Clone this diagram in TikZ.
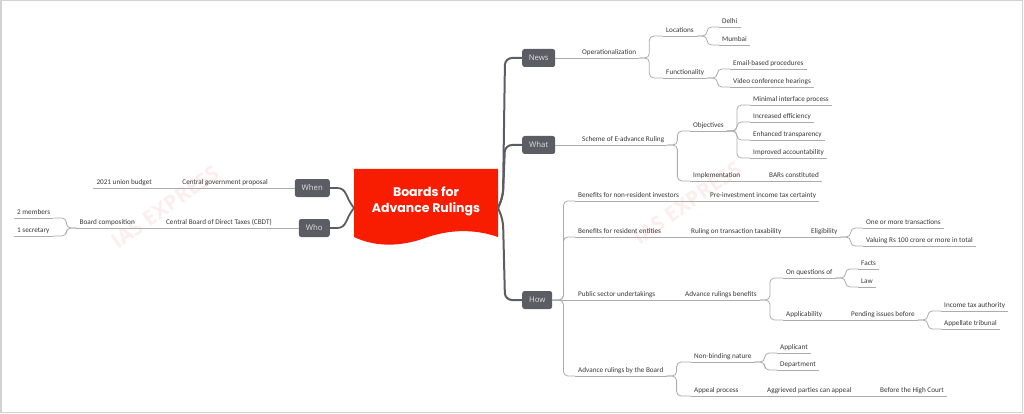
\documentclass[tikz,border=0pt]{standalone}
\usepackage{fontspec}
\setmainfont{Carlito}
\newfontfamily\boxfont{Open Sans}
\newfontfamily\titlefont{Poppins}
\usetikzlibrary{calc}
\definecolor{rootred}{RGB}{248,28,0}
\definecolor{topicgray}{RGB}{92,92,100}
\definecolor{linegray}{RGB}{172,172,172}
\definecolor{txtgray}{RGB}{55,55,55}
\definecolor{wmark}{RGB}{253,238,238}
\begin{document}
\begin{tikzpicture}[x=1pt,y=-1pt,
 lab/.style={font=\fontsize{7.2}{8}\selectfont, text=txtgray, inner xsep=3pt, inner ysep=1.5pt, text height=5.2pt, text depth=1.5pt, anchor=south west},
 rlab/.style={lab, anchor=south east},
 uline/.style={draw=linegray, line width=0.8pt},
 conn/.style={draw=linegray, line width=0.8pt, rounded corners=4.5pt},
 trunk/.style={draw=topicgray, line width=2pt, rounded corners=7pt},
 topic/.style={fill=topicgray, rounded corners=2.5pt, text=white!88!black, font=\boxfont\fontsize{7.8}{9}\selectfont, minimum height=18pt, inner xsep=4pt, inner ysep=0pt},
 wm/.style={rotate=35, text=wmark, font=\boxfont\bfseries\fontsize{21}{21}\selectfont}
]
\useasboundingbox (0,0) rectangle (1024,414);
\draw[gray!35, line width=1.5pt] (0.75,0.75) rectangle (1022.5,412.5);

% watermarks
\node[wm] (wm1) at (165,207) {IAS EXPRESS};
\node[wm] (wm2) at (687,203) {IAS EXPRESS};

% root
\fill[rootred] (354,169) -- (498,169) -- (498,237) .. controls (475,229) and (450,229) .. (425,238) .. controls (400,247) and (375,247) .. (354,237) -- cycle;
\node[text=white, align=center, font=\titlefont\bfseries\fontsize{12.5}{16}\selectfont] (root) at (426,201) {Boards for\\Advance Rulings};
\coordinate (rootE) at (498,208);
\coordinate (rootW) at (354,208);

% topics
\node[topic, minimum width=33pt, anchor=west] (news) at (522,58) {News};
\node[topic, minimum width=33pt, anchor=west] (what) at (522,145) {What};
\node[topic, minimum width=30pt, anchor=west] (how) at (522,300) {How};
\node[topic, minimum width=35pt, anchor=east] (when) at (330,188) {When};
\node[topic, minimum width=31pt, anchor=east] (who) at (330,228) {Who};

\draw[trunk] (rootE) -- (503,196) -- (505,58) -- (news.west);
\draw[trunk] (rootE) -- (503,196) -- (505,145) -- (what.west);
\draw[trunk] (rootE) -- (503,220) -- (505,300) -- (how.west);
\draw[draw=topicgray, line width=1.8pt] (rootW) .. controls (345,197) and (347,188) .. (337,188) -- (when.east);
\draw[draw=topicgray, line width=1.8pt] (rootW) .. controls (345,219) and (347,228) .. (337,228) -- (who.east);

% News branch
\node[lab] (opn) at (579,58) {Operationalization};
\node[lab] (loc) at (663,36) {Locations};
\node[lab] (fun) at (663,78) {Functionality};
\node[lab] (delhi) at (719,27) {Delhi};
\node[lab] (mumbai) at (719,45) {Mumbai};
\node[lab] (email) at (730,69) {Email-based procedures};
\node[lab] (video) at (730,87) {Video conference hearings};

% What branch
\node[lab] (sch) at (579,145) {Scheme of E-advance Ruling};
\node[lab] (obj) at (690,131) {Objectives};
\node[lab] (imp) at (690,181) {Implementation};
\node[lab] (bars) at (766,181) {BARs constituted};
\node[lab] (minp) at (750,105) {Minimal interface process};
\node[lab] (inc) at (750,122) {Increased efficiency};
\node[lab] (enh) at (750,140) {Enhanced transparency};
\node[lab] (imprv) at (750,158) {Improved accountability};

% How branch
\node[lab] (bnr) at (575,201) {Benefits for non-resident investors};
\node[lab] (pre) at (707,201) {Pre-investment income tax certainty};
\node[lab] (bre) at (575,237) {Benefits for resident entities};
\node[lab] (rul) at (688,237) {Ruling on transaction taxability};
\node[lab] (eli) at (808,237) {Eligibility};
\node[lab] (one) at (863,228) {One or more transactions};
\node[lab] (val) at (863,246) {Valuing Rs 100 crore or more in total};
\node[lab] (psu) at (575,300) {Public sector undertakings};
\node[lab] (arb) at (682,300) {Advance rulings benefits};
\node[lab] (onq) at (783,278) {On questions of};
\node[lab] (appl) at (783,320) {Applicability};
\node[lab] (pend) at (848,320) {Pending issues before};
\node[lab] (facts) at (858,269) {Facts};
\node[lab] (law) at (858,287) {Law};
\node[lab] (ita) at (941,311) {Income tax authority};
\node[lab] (atr) at (941,329) {Appellate tribunal};
\node[lab] (arbb) at (575,376) {Advance rulings by the Board};
\node[lab] (nbn) at (691,362) {Non-binding nature};
\node[lab] (appeal) at (691,396) {Appeal process};
\node[lab] (apc) at (777,353) {Applicant};
\node[lab] (dept) at (777,370) {Department};
\node[lab] (agg) at (764,396) {Aggrieved parties can appeal};
\node[lab] (hc) at (877,396) {Before the High Court};

% Left side
\node[rlab] (cgp) at (271,188) {Central government proposal};
\node[rlab] (budget) at (155,188) {2021 union budget};
\node[rlab] (cbdt) at (275,228) {Central Board of Direct Taxes (CBDT)};
\node[rlab] (bc) at (138,228) {Board composition};
\node[lab] (m2) at (14,218) {2 members};
\node[lab] (sec) at (14,236) {1 secretary};

% underlines
\foreach \n in {opn,loc,fun,delhi,mumbai,email,video,sch,obj,imp,bars,minp,inc,enh,imprv,
  bnr,pre,bre,rul,eli,one,val,psu,arb,onq,appl,pend,facts,law,ita,atr,arbb,nbn,appeal,apc,dept,agg,hc,
  cgp,budget,cbdt,bc,m2,sec}
  \draw[uline] (\n.south west) -- (\n.south east);

% connectors right
\draw[conn] (news.east) -- (opn.south west);
\draw[conn] (opn.south east) -- ++(10,0) |- (loc.south west);
\draw[conn] (opn.south east) -- ++(10,0) |- (fun.south west);
\draw[conn] (loc.south east) -- ++(10,0) |- (delhi.south west);
\draw[conn] (loc.south east) -- ++(10,0) |- (mumbai.south west);
\draw[conn] (fun.south east) -- ++(10,0) |- (email.south west);
\draw[conn] (fun.south east) -- ++(10,0) |- (video.south west);

\draw[conn] (what.east) -- (sch.south west);
\draw[conn] (sch.south east) -- ++(10,0) |- (obj.south west);
\draw[conn] (sch.south east) -- ++(10,0) |- (imp.south west);
\draw[conn] (imp.south east) -- (bars.south west);
\foreach \c in {minp,inc,enh,imprv}
  \draw[conn] (obj.south east) -- ++(10,0) |- (\c.south west);

\draw[conn] (how.east) -- ++(11,0) |- (bnr.south west);
\draw[conn] (how.east) -- ++(11,0) |- (bre.south west);
\draw[conn] (how.east) -- (psu.south west);
\draw[conn] (how.east) -- ++(11,0) |- (arbb.south west);
\draw[conn] (bnr.south east) -- (pre.south west);
\draw[conn] (bre.south east) -- (rul.south west);
\draw[conn] (rul.south east) -- (eli.south west);
\draw[conn] (eli.south east) -- ++(10,0) |- (one.south west);
\draw[conn] (eli.south east) -- ++(10,0) |- (val.south west);
\draw[conn] (psu.south east) -- (arb.south west);
\draw[conn] (arb.south east) -- ++(10,0) |- (onq.south west);
\draw[conn] (arb.south east) -- ++(10,0) |- (appl.south west);
\draw[conn] (onq.south east) -- ++(10,0) |- (facts.south west);
\draw[conn] (onq.south east) -- ++(10,0) |- (law.south west);
\draw[conn] (appl.south east) -- (pend.south west);
\draw[conn] (pend.south east) -- ++(10,0) |- (ita.south west);
\draw[conn] (pend.south east) -- ++(10,0) |- (atr.south west);
\draw[conn] (arbb.south east) -- ++(10,0) |- (nbn.south west);
\draw[conn] (arbb.south east) -- ++(10,0) |- (appeal.south west);
\draw[conn] (nbn.south east) -- ++(10,0) |- (apc.south west);
\draw[conn] (nbn.south east) -- ++(10,0) |- (dept.south west);
\draw[conn] (appeal.south east) -- (agg.south west);
\draw[conn] (agg.south east) -- (hc.south west);

% connectors left
\draw[conn] (when.west) -- (cgp.south east);
\draw[conn] (cgp.south west) -- (budget.south east);
\draw[conn] (who.west) -- (cbdt.south east);
\draw[conn] (cbdt.south west) -- (bc.south east);
\draw[conn] (bc.south west) -- ++(-10,0) |- (m2.south east);
\draw[conn] (bc.south west) -- ++(-10,0) |- (sec.south east);
\end{tikzpicture}
\end{document}
